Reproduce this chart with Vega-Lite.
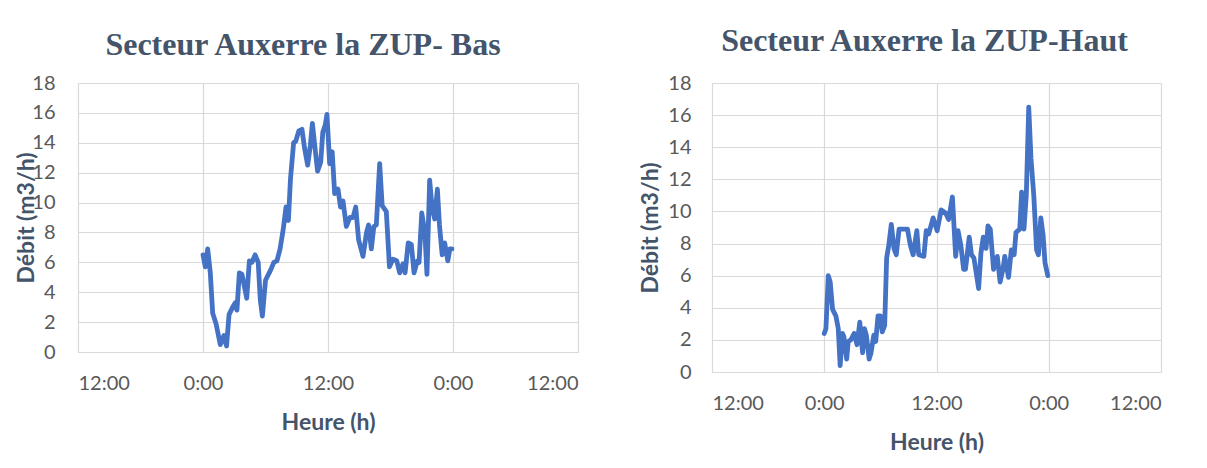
{
  "$schema": "https://vega.github.io/schema/vega-lite/v6.json",
  "background": "white",
  "padding": {"left": 15, "top": 25, "right": 5, "bottom": 5},
  "bounds": "flush",
  "spacing": 134,
  "config": {
    "view": {"stroke": null},
    "axis": {
      "gridColor": "#D9D9D9",
      "gridWidth": 1.2,
      "domainColor": "#D9D9D9",
      "ticks": false,
      "labelFont": "Lato",
      "labelFontSize": 20,
      "labelColor": "#595959",
      "titleFont": "Lato",
      "titleFontSize": 23,
      "titleFontWeight": "bold",
      "titleColor": "#44546A"
    },
    "title": {"font": "Liberation Serif", "fontSize": 32, "fontWeight": "bold", "color": "#44546A", "anchor": "middle"}
  },
  "datasets": {
    "bas": [
      {"h": 0, "v": 6.5}, {"h": 0.22, "v": 5.7}, {"h": 0.45, "v": 6.9}, {"h": 0.7, "v": 5.3}, {"h": 0.93, "v": 2.6},
      {"h": 1.25, "v": 1.9}, {"h": 1.66, "v": 0.5}, {"h": 2.0, "v": 1.1}, {"h": 2.26, "v": 0.4}, {"h": 2.5, "v": 2.5},
      {"h": 2.85, "v": 3.0}, {"h": 3.1, "v": 3.3}, {"h": 3.26, "v": 2.8}, {"h": 3.49, "v": 5.3}, {"h": 3.74, "v": 5.2},
      {"h": 4.2, "v": 3.6}, {"h": 4.45, "v": 6.1}, {"h": 4.7, "v": 6.0}, {"h": 5.0, "v": 6.5}, {"h": 5.3, "v": 6.0},
      {"h": 5.5, "v": 3.5}, {"h": 5.7, "v": 2.4}, {"h": 6.0, "v": 4.8}, {"h": 6.5, "v": 5.5}, {"h": 6.8, "v": 6.0},
      {"h": 7.1, "v": 6.1}, {"h": 7.4, "v": 6.9}, {"h": 7.7, "v": 8.2}, {"h": 7.97, "v": 9.7}, {"h": 8.2, "v": 8.8},
      {"h": 8.4, "v": 11.6}, {"h": 8.7, "v": 14.0}, {"h": 8.9, "v": 14.1}, {"h": 9.2, "v": 14.8}, {"h": 9.5, "v": 14.9},
      {"h": 9.76, "v": 13.6}, {"h": 10.05, "v": 12.5}, {"h": 10.3, "v": 13.8}, {"h": 10.5, "v": 15.3}, {"h": 10.7, "v": 14.0},
      {"h": 11.0, "v": 12.1}, {"h": 11.3, "v": 12.7}, {"h": 11.5, "v": 14.7}, {"h": 11.74, "v": 15.2}, {"h": 11.9, "v": 15.9},
      {"h": 12.16, "v": 12.6}, {"h": 12.4, "v": 13.4}, {"h": 12.64, "v": 10.6}, {"h": 12.96, "v": 10.9}, {"h": 13.2, "v": 9.7},
      {"h": 13.44, "v": 10.1}, {"h": 13.76, "v": 8.4}, {"h": 14.1, "v": 9.0}, {"h": 14.4, "v": 9.0}, {"h": 14.66, "v": 9.7},
      {"h": 14.94, "v": 7.5}, {"h": 15.36, "v": 6.4}, {"h": 15.7, "v": 8.0}, {"h": 15.9, "v": 8.5}, {"h": 16.16, "v": 6.9},
      {"h": 16.4, "v": 8.4}, {"h": 16.64, "v": 8.5}, {"h": 16.96, "v": 12.6}, {"h": 17.2, "v": 9.8}, {"h": 17.6, "v": 9.4},
      {"h": 17.9, "v": 5.7}, {"h": 18.24, "v": 6.2}, {"h": 18.6, "v": 6.1}, {"h": 18.88, "v": 5.3}, {"h": 19.2, "v": 5.9},
      {"h": 19.4, "v": 5.3}, {"h": 19.7, "v": 7.3}, {"h": 20.0, "v": 7.2}, {"h": 20.26, "v": 5.3}, {"h": 20.58, "v": 6.1},
      {"h": 20.74, "v": 6.0}, {"h": 21.0, "v": 9.3}, {"h": 21.3, "v": 8.0}, {"h": 21.5, "v": 5.2}, {"h": 21.76, "v": 11.5},
      {"h": 22.0, "v": 9.6}, {"h": 22.24, "v": 8.9}, {"h": 22.5, "v": 10.9}, {"h": 22.7, "v": 8.5}, {"h": 22.96, "v": 6.5},
      {"h": 23.2, "v": 7.3}, {"h": 23.5, "v": 6.1}, {"h": 23.7, "v": 6.9}, {"h": 23.9, "v": 6.9}
    ],
    "haut": [
      {"h": 0, "v": 2.4}, {"h": 0.18, "v": 2.7}, {"h": 0.43, "v": 6.0}, {"h": 0.64, "v": 5.6}, {"h": 0.89, "v": 3.9},
      {"h": 1.24, "v": 3.5}, {"h": 1.5, "v": 2.7}, {"h": 1.7, "v": 0.4}, {"h": 1.95, "v": 2.4}, {"h": 2.1, "v": 2.2},
      {"h": 2.4, "v": 0.8}, {"h": 2.56, "v": 1.9}, {"h": 2.84, "v": 2.0}, {"h": 3.2, "v": 2.4}, {"h": 3.5, "v": 1.7},
      {"h": 3.8, "v": 3.1}, {"h": 4.1, "v": 1.2}, {"h": 4.3, "v": 2.7}, {"h": 4.5, "v": 2.3}, {"h": 4.8, "v": 0.8},
      {"h": 5.0, "v": 1.2}, {"h": 5.3, "v": 2.3}, {"h": 5.5, "v": 1.9}, {"h": 5.75, "v": 3.5}, {"h": 6.0, "v": 3.5},
      {"h": 6.2, "v": 2.5}, {"h": 6.46, "v": 2.9}, {"h": 6.67, "v": 7.1}, {"h": 6.9, "v": 7.9}, {"h": 7.17, "v": 9.2},
      {"h": 7.45, "v": 7.7}, {"h": 7.7, "v": 7.3}, {"h": 8.0, "v": 8.9}, {"h": 8.5, "v": 8.9}, {"h": 8.9, "v": 8.9},
      {"h": 9.2, "v": 7.9}, {"h": 9.5, "v": 7.3}, {"h": 9.9, "v": 8.8}, {"h": 10.1, "v": 7.3}, {"h": 10.65, "v": 7.2},
      {"h": 10.9, "v": 8.8}, {"h": 11.17, "v": 8.6}, {"h": 11.64, "v": 9.6}, {"h": 12.07, "v": 8.8}, {"h": 12.5, "v": 10.1},
      {"h": 12.97, "v": 9.9}, {"h": 13.3, "v": 9.5}, {"h": 13.7, "v": 10.9}, {"h": 14.05, "v": 7.2}, {"h": 14.3, "v": 8.8},
      {"h": 14.6, "v": 7.9}, {"h": 14.9, "v": 6.4}, {"h": 15.1, "v": 6.4}, {"h": 15.5, "v": 8.4}, {"h": 15.74, "v": 7.3},
      {"h": 16.0, "v": 7.1}, {"h": 16.5, "v": 5.2}, {"h": 16.75, "v": 7.4}, {"h": 17.0, "v": 8.4}, {"h": 17.3, "v": 7.7},
      {"h": 17.5, "v": 9.1}, {"h": 17.75, "v": 8.9}, {"h": 18.1, "v": 6.4}, {"h": 18.5, "v": 7.2}, {"h": 18.8, "v": 5.6},
      {"h": 19.1, "v": 6.4}, {"h": 19.3, "v": 7.2}, {"h": 19.7, "v": 5.9}, {"h": 20.0, "v": 7.6}, {"h": 20.3, "v": 7.3},
      {"h": 20.5, "v": 8.7}, {"h": 20.9, "v": 8.9}, {"h": 21.1, "v": 11.2}, {"h": 21.35, "v": 8.9}, {"h": 21.6, "v": 11.0},
      {"h": 21.86, "v": 16.5}, {"h": 22.1, "v": 13.3}, {"h": 22.4, "v": 11.0}, {"h": 22.7, "v": 7.6}, {"h": 22.9, "v": 7.3},
      {"h": 23.15, "v": 9.6}, {"h": 23.4, "v": 8.5}, {"h": 23.6, "v": 6.8}, {"h": 23.9, "v": 6.0}
    ]
  },
  "hconcat": [
    {
      "title": {"text": "Secteur Auxerre la ZUP- Bas", "offset": 11, "dx": -25},
      "width": 500,
      "height": 269,
      "data": {"name": "bas"},
      "mark": {"type": "line", "color": "#4472C4", "strokeWidth": 4.8, "strokeJoin": "round", "strokeCap": "round"},
      "encoding": {
        "x": {"field": "h", "type": "quantitative", "scale": {"domain": [-12, 36], "nice": false},
          "axis": {"values": [-12, 0, 12, 24, 36], "labelExpr": "datum.value % 24 == 0 ? '0:00' : '12:00'", "title": "Heure (h)", "labelPadding": 21, "titlePadding": 18}},
        "y": {"field": "v", "type": "quantitative", "scale": {"domain": [0, 18], "nice": false},
          "axis": {"values": [0, 2, 4, 6, 8, 10, 12, 14, 16, 18], "title": "Débit (m3/h)", "labelPadding": 23, "titlePadding": -7}}
      }
    },
    {
      "title": {"text": "Secteur Auxerre la ZUP-Haut", "offset": 15, "dx": -12},
      "width": 449,
      "height": 289,
      "data": {"name": "haut"},
      "mark": {"type": "line", "color": "#4472C4", "strokeWidth": 4.8, "strokeJoin": "round", "strokeCap": "round"},
      "encoding": {
        "x": {"field": "h", "type": "quantitative", "scale": {"domain": [-12, 36], "nice": false},
          "axis": {"values": [-12, 0, 12, 24, 36], "labelExpr": "datum.value % 24 == 0 ? '0:00' : '12:00'", "title": "Heure (h)", "labelPadding": 21, "titlePadding": 18}},
        "y": {"field": "v", "type": "quantitative", "scale": {"domain": [0, 18], "nice": false},
          "axis": {"values": [0, 2, 4, 6, 8, 10, 12, 14, 16, 18], "title": "Débit (m3/h)", "labelPadding": 21, "titlePadding": 5}}
      }
    }
  ]
}
